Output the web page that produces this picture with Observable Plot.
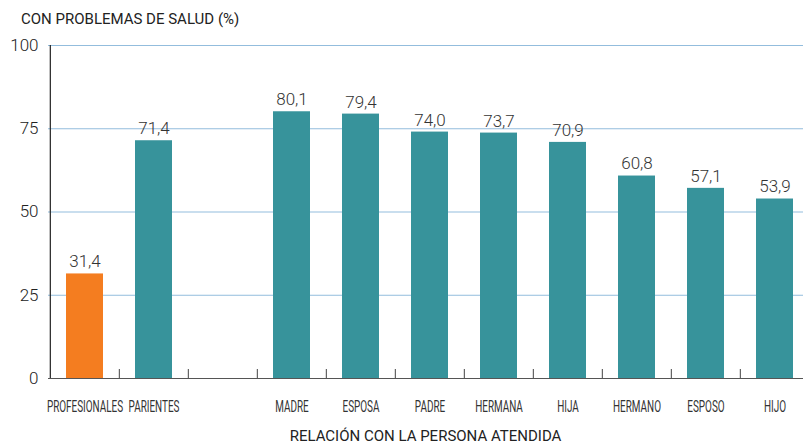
<!DOCTYPE html>
<html>
<head>
<meta charset="utf-8">
<script src="https://cdn.jsdelivr.net/npm/d3@7"></script>
<script src="https://cdn.jsdelivr.net/npm/@observablehq/plot@0.6"></script>
<style>
  body { margin: 0; background: #fff; }
  #wrap { width: 803px; height: 445px; overflow: hidden; font-family: Roboto, "Liberation Sans", sans-serif; color: #222; }
  #title { height: 29px; padding-top: 5px; line-height: 29px; font-size: 15px; padding-left: 21px; font-weight: 400; }
  #xtitle { height: 17px; padding-top: 10px; line-height: 17px; font-size: 15px; text-align: center; padding-left: 48px; }
  svg { display: block; }
</style>
</head>
<body>
<div id="wrap">
  <div id="title">CON PROBLEMAS DE SALUD (%)</div>
  <div id="chart"></div>
  <div id="xtitle">RELACIÓN CON LA PERSONA ATENDIDA</div>
</div>
<script>
const categories = ["PROFESIONALES", "PARIENTES", " ", "MADRE", "ESPOSA", "PADRE", "HERMANA", "HIJA", "HERMANO", "ESPOSO", "HIJO"];
const barCategories = ["PROFESIONALES", "PARIENTES", "MADRE", "ESPOSA", "PADRE", "HERMANA", "HIJA", "HERMANO", "ESPOSO", "HIJO"];
const values = [31.4, 71.4, 80.1, 79.4, 74.0, 73.7, 70.9, 60.8, 57.1, 53.9];
const groups = ["profesionales", "parientes", "parientes", "parientes", "parientes", "parientes", "parientes", "parientes", "parientes", "parientes"];
const yTicks = [0, 25, 50, 75, 100];

const data = barCategories.map((c, i) => ({cat: c, value: values[i], group: groups[i]}));

const W = 803, H = 384, left = 48, rightEnd = 811;
const step = (rightEnd - left) / categories.length;
const pad = 0.47;

const chart = Plot.plot({
  width: W,
  height: H,
  marginTop: 11,
  marginBottom: 40,
  marginLeft: left,
  marginRight: 0,
  style: {fontFamily: "Roboto, 'Liberation Sans', sans-serif", color: "#222", background: "#fff"},
  x: {domain: categories, range: [left, rightEnd], paddingInner: pad, paddingOuter: pad / 2, label: null},
  y: {domain: [0, 100], label: null},
  color: {domain: ["profesionales", "parientes"], range: ["#f47d20", "#37939b"]},
  marks: [
    Plot.ruleY(yTicks.filter(d => d > 0), {stroke: "#93bddd", strokeWidth: 1}),
    Plot.barY(data, {x: "cat", y: "value", fill: "group"}),
    Plot.ruleY([0], {stroke: "#555", strokeWidth: 1.2}),
    Plot.ruleX([categories[0]], {x: d => d, y1: 0, y2: 100, dx: -step / 2, stroke: "#222", strokeWidth: 1.2}),
    Plot.ruleX(categories.slice(1), {x: d => d, y1: 0, y2: 2.7, dx: -step / 2, stroke: "#444", strokeWidth: 1}),
    Plot.text(data, {x: "cat", y: "value", text: d => d.value.toFixed(1).replace(".", ","), dy: -12, fontSize: 17, fill: "#333", fontWeight: 300}),
    Plot.axisY({ticks: yTicks, tickSize: 0, tickPadding: 10, fontSize: 17, fontWeight: 300, tickFormat: d => String(d), label: null}),
    Plot.axisX({tickSize: 0, tickPadding: 22, fontSize: 16, label: null, tickFormat: d => d})
  ]
});

document.getElementById("chart").appendChild(chart);
d3.select(chart).selectAll("[aria-label='x-axis tick label'] text").each(function() {
  const t = this.getAttribute("transform") || "";
  this.setAttribute("transform", t + " scale(0.62,1)");
  this.setAttribute("fill", "#333");
});
</script>
</body>
</html>
